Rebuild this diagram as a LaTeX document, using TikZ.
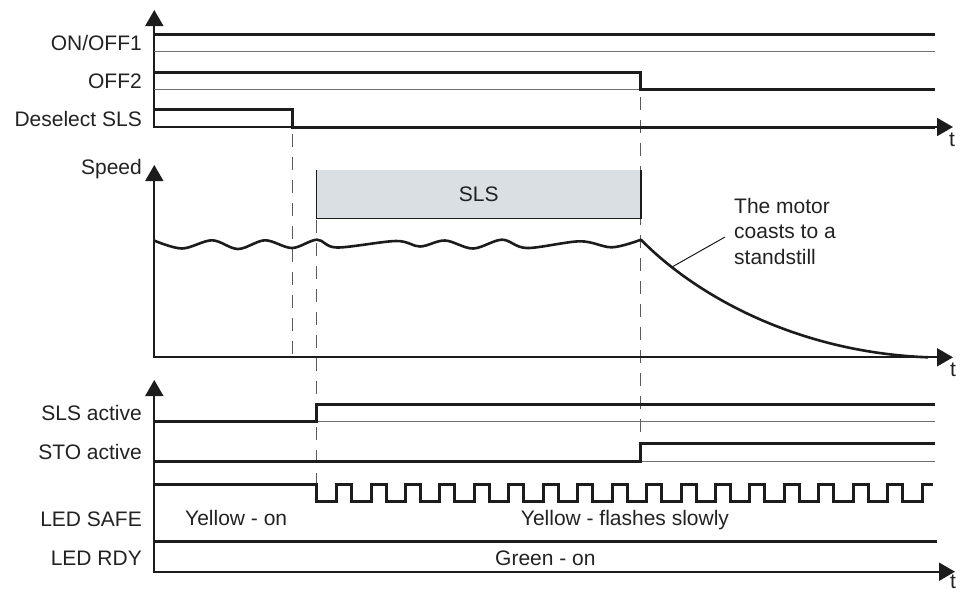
\documentclass[tikz,border=0pt]{standalone}
\usepackage{fontspec}
\setmainfont{Liberation Sans}
\usetikzlibrary{arrows.meta}
\definecolor{ink}{HTML}{1C1C1C}
\definecolor{txt}{HTML}{222222}
\definecolor{thinc}{HTML}{707070}
\definecolor{dashc}{HTML}{5A5A5A}
\definecolor{boxfill}{RGB}{218,223,227}
\tikzset{
  axisln/.style={draw=ink, line width=1.8pt},
  tip/.tip={Triangle[length=16pt,width=18pt]},
  sig/.style={draw=ink, line width=3pt},
  thinln/.style={draw=thinc, line width=1pt},
  guide/.style={draw=dashc, line width=1pt, dash pattern=on 13pt off 10pt},
  lbl/.style={text=txt, inner sep=0pt, anchor=base east, font=\fontsize{21}{25.5}\selectfont},
  lblw/.style={text=txt, inner sep=0pt, anchor=base west, font=\fontsize{21}{25.5}\selectfont},
  tlbl/.style={text=txt, inner sep=0pt, font=\fontsize{21}{25.5}\selectfont},
}
\begin{document}
\begin{tikzpicture}[x=1pt,y=-1pt]
\useasboundingbox (0,0) rectangle (960,592);

% ---------- guide lines (dashed) ----------
\draw[guide] (292.7,134) -- (292.7,357.3);
\draw[guide] (316.7,220) -- (316.7,484);
\draw[guide] (640.7,97) -- (640.7,443);

% ---------- top section ----------
\draw[axisln, tip-tip] (154.3,10) -- (154.3,127) -- (953,127);
\node[lbl] (lonoff) at (142,50.6) {ON/OFF1};
\node[lbl] (loff2) at (142,88.3) {OFF2};
\node[lbl] (ldesel) at (142,126) {Deselect SLS};
\node[tlbl] (t1) at (952,140) {t};

\draw[thinln] (154.3,51.7) -- (935,51.7);
\draw[sig] (154.3,34.3) -- (935,34.3);
\draw[thinln] (154.3,89.3) -- (640,89.3);
\draw[sig] (154.3,72) -- (640,72) -- (640,89.3) -- (935,89.3);
\draw[sig] (154.3,109.3) -- (292.7,109.3) -- (292.7,127) -- (935,127);

% ---------- speed section ----------
\draw[axisln, tip-tip] (154.3,165) -- (154.3,357.3) -- (953,357.3);
\node[lbl] (lspeed) at (142,174) {Speed};
\node[tlbl] (t2) at (953,370) {t};

\node[fill=boxfill, inner sep=0pt, minimum width=324pt, minimum height=48.3pt,
      text=txt, font=\fontsize{21}{25.5}\selectfont] (slsbox) at (478.7,194.15) {SLS};
\draw[ink, line width=1.2pt] (slsbox.north west) -- (slsbox.south west) -- (slsbox.south east) -- (slsbox.north east);

\draw[ink, line width=2.6pt, line join=round] plot[smooth, tension=0.55] coordinates {
 (154,240.5) (182,248.5) (212,240.3) (238,249) (265,240.3) (292,248) (317,239.7)
 (337,247.5) (396,241) (420,246.5) (445,240.5) (473,248.5) (502,239.7) (527,248)
 (580,241.3) (612,247.3) (641,239.7)}
 .. controls (690,290) and (790,352) .. (928,357.3);

\node[lblw, align=left, anchor=north west] (note) at (734,198) {The motor\\coasts to a\\standstill};
\coordinate (leadA) at (672,267);
\coordinate (leadB) at (725,237);
\draw[ink, line width=1pt] (leadA) -- (leadB);

% ---------- bottom section ----------
\draw[axisln, tip-tip] (154.3,380) -- (154.3,571.7) -- (955,571.7);
\node[tlbl] (t3) at (953,582) {t};
\node[lbl] (lslsa) at (142,420) {SLS active};
\node[lbl] (lstoa) at (142,459.3) {STO active};
\node[lbl] (lsafe) at (142,526) {LED SAFE};
\node[lbl] (lrdy) at (142,565) {LED RDY};

\draw[thinln] (316.7,421.7) -- (935,421.7);
\draw[sig] (154.3,421.7) -- (316.7,421.7) -- (316.7,404) -- (935,404);
\draw[thinln] (640.7,461) -- (935,461);
\draw[sig] (154.3,461) -- (640.7,461) -- (640.7,443.3) -- (935,443.3);

\draw[sig] (154.3,484.3) -- (316.7,484.3) -- (316.7,501.7)
  foreach \k in {0,...,16} { -- (336.7+34.43*\k,501.7) -- ++(0,-17.4) -- ++(15,0) -- ++(0,17.4) }
  -- (922,501.7) -- (922,484.3) -- (933,484.3);

\draw[sig] (154.3,541) -- (937,541);

\node[lblw] (yon) at (185,525) {Yellow - on};
\node[lblw] (yflash) at (520.7,525) {Yellow - flashes slowly};
\node[lblw] (gon) at (495,565) {Green - on};
\end{tikzpicture}
\end{document}
